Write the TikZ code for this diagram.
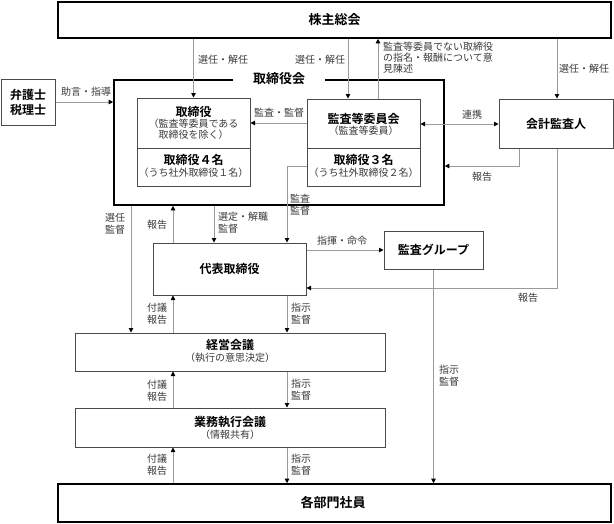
\documentclass[tikz,border=0pt]{standalone}
\usepackage{fontspec}
\setmainfont{Noto Sans CJK JP}[BoldFont={Noto Sans CJK JP Bold}]
\usetikzlibrary{arrows.meta}
\definecolor{linec}{HTML}{9A9A9A}
\definecolor{boxc}{HTML}{4A4A4A}
\definecolor{lblc}{HTML}{3A3A3A}
\tikzset{
  box/.style={draw=boxc, line width=1pt, inner sep=0pt},
  bigbox/.style={draw=black, line width=1.6pt, inner sep=0pt},
  conn/.style={draw=linec, line width=0.9pt},
  arr/.style={conn, -{Triangle[length=4.5pt,width=4.5pt,color=black]}},
  dbl/.style={conn, {Triangle[length=4.5pt,width=4.5pt,color=black]}-{Triangle[length=4.5pt,width=4.5pt,color=black]}},
  lbl/.style={font=\fontsize{10}{12}\selectfont, text=lblc, inner sep=0pt, align=center},
  sub/.style={font=\fontsize{10}{12}\selectfont, text=lblc, inner sep=0pt},
  ttl/.style={font=\fontsize{12}{14}\selectfont\bfseries, inner sep=0pt, align=center},
  bigttl/.style={font=\fontsize{13}{15}\selectfont\bfseries, inner sep=0pt},
}
\begin{document}
\begin{tikzpicture}[x=1pt,y=-1pt]
\useasboundingbox (0,0) rectangle (614,523);

% x / y levels
\coordinate (xb) at (348,0);
\coordinate (xc) at (378,0);
\coordinate (xd) at (557,0);
\coordinate (xe) at (519,0);
\coordinate (xf) at (131,0);
\coordinate (xg) at (173,0);
\coordinate (xh) at (214,0);
\coordinate (xi) at (287,0);
\coordinate (ya) at (0,123);
\coordinate (yb) at (0,124);
\coordinate (yc) at (0,166);
\coordinate (yd) at (0,288);
\coordinate (ye) at (0,148);

% big boxes
\node[bigbox, minimum width=553pt, minimum height=36pt] (kabu) at (334.5,20) {};
\node[bigttl] (kabut) at (kabu) {株主総会};
\node[bigbox, minimum width=553pt, minimum height=38pt] (kakubu) at (334.5,503) {};
\node[bigttl] (kakubut) at (333,503) {各部門社員};
\node[bigbox, minimum width=330pt, minimum height=125pt] (torikai) at (279,142.5) {};
\node[bigttl, fill=white, inner xsep=20pt, inner ysep=1pt] (torikait) at (279,79) {取締役会};

% other boxes
\node[box, minimum width=54pt, minimum height=46pt] (bengo) at (28,102) {};
\node[ttl, font=\fontsize{12}{15}\selectfont\bfseries] (bengot) at (bengo) {弁護士\\税理士};

\node[box, minimum width=113pt, minimum height=88pt] (tori) at (193.5,142) {};
\draw[draw=boxc, line width=1pt] (tori.west |- ye) -- (tori.east |- ye);
\node[ttl] (tori1) at (193.5,112) {取締役};
\node[sub] (tori2) at (193.5,124) {（監査等委員である};
\node[sub] (tori3) at (193.5,135) {取締役を除く）};
\node[ttl] (tori4) at (193.5,160) {取締役４名};
\node[sub] (tori5) at (193.5,173) {（うち社外取締役１名）};

\node[box, minimum width=113pt, minimum height=87pt] (kansa) at (363.5,142.5) {};
\draw[draw=boxc, line width=1pt] (kansa.west |- ye) -- (kansa.east |- ye);
\node[ttl] (kansa1) at (363.5,119) {監査等委員会};
\node[sub] (kansa2) at (363.5,131) {（監査等委員）};
\node[ttl] (kansa3) at (363.5,160) {取締役３名};
\node[sub] (kansa4) at (363.5,173) {（うち社外取締役２名）};

\node[box, minimum width=114pt, minimum height=49pt] (kaikei) at (556,123.5) {};
\node[ttl] (kaikeit) at (kaikei) {会計監査人};

\node[box, minimum width=153pt, minimum height=52pt] (daihyo) at (229.5,269) {};
\node[ttl] (daihyot) at (daihyo) {代表取締役};

\node[box, minimum width=99pt, minimum height=38pt] (kgroup) at (433.5,250) {};
\node[ttl] (kgroupt) at (kgroup) {監査グループ};

\node[box, minimum width=310pt, minimum height=38pt] (keiei) at (230,352) {};
\node[ttl] (keiei1) at (230,345) {経営会議};
\node[sub] (keiei2) at (230,358) {（執行の意思決定）};

\node[box, minimum width=310pt, minimum height=39pt] (gyomu) at (230,427.5) {};
\node[ttl] (gyomu1) at (230,422) {業務執行会議};
\node[sub] (gyomu2) at (230,435) {（情報共有）};

% connectors
\draw[arr] (kabu.south -| tori.north) -- (tori.north);
\draw[arr] (kabu.south -| xb) -- (kansa.north -| xb);
\draw[arr] (kansa.north -| xc) -- (kabu.south -| xc);
\draw[arr] (kabu.south -| xd) -- (kaikei.north -| xd);
\draw[arr] (bengo.east) -- (bengo.east -| torikai.west);
\draw[arr] (kansa.west |- ya) -- (tori.east |- ya);
\draw[dbl] (kansa.east |- yb) -- (kaikei.west |- yb);
\draw[arr] (kaikei.south -| xe) |- (torikai.east |- yc);
\draw[arr] (kaikei.south -| xd) |- (daihyo.east |- yd);
\draw[arr] (kansa.west |- yc) -| (daihyo.north -| xi);
\draw[arr] (torikai.south -| xf) -- (keiei.north -| xf);
\draw[arr] (daihyo.north -| xg) -- (torikai.south -| xg);
\draw[arr] (torikai.south -| xh) -- (daihyo.north -| xh);
\draw[arr] (daihyo.east |- kgroup.west) -- (kgroup.west);
\draw[arr] (kgroup.south) -- (kakubu.north -| kgroup.south);
\draw[arr] (keiei.north -| xg) -- (daihyo.south -| xg);
\draw[arr] (daihyo.south -| xi) -- (keiei.north -| xi);
\draw[arr] (gyomu.north -| xg) -- (keiei.south -| xg);
\draw[arr] (keiei.south -| xi) -- (gyomu.north -| xi);
\draw[arr] (kakubu.north -| xg) -- (gyomu.south -| xg);
\draw[arr] (gyomu.south -| xi) -- (kakubu.north -| xi);

% labels
\node[lbl] (l1) at (86,92) {助言・指導};
\node[lbl] (l2) at (223,60) {選任・解任};
\node[lbl] (l3) at (320,60) {選任・解任};
\node[lbl] (l4) at (584,69) {選任・解任};
\node[lbl, anchor=west, align=left, font=\fontsize{10}{11}\selectfont] (l5) at (383,58) {監査等委員でない取締役\\の指名・報酬について意\\見陳述};
\node[lbl] (l6) at (279,113) {監査・監督};
\node[lbl] (l7) at (472,115) {連携};
\node[lbl] (l8) at (482,177) {報告};
\node[lbl, anchor=west, align=left] (l9) at (290,204.5) {監査\\監督};
\node[lbl] (l10) at (115,224) {選任\\監督};
\node[lbl] (l11) at (157,225) {報告};
\node[lbl, anchor=west, align=left] (l12) at (218,223) {選定・解職\\監督};
\node[lbl] (l13) at (342,241) {指揮・命令};
\node[lbl] (l14) at (528,298) {報告};
\node[lbl] (l15) at (157,314) {付議\\報告};
\node[lbl, anchor=west, align=left] (l16) at (291,314) {指示\\監督};
\node[lbl] (l17) at (157,391) {付議\\報告};
\node[lbl, anchor=west, align=left] (l18) at (291,390) {指示\\監督};
\node[lbl] (l19) at (157,465) {付議\\報告};
\node[lbl, anchor=west, align=left] (l20) at (291,465) {指示\\監督};
\node[lbl, anchor=west, align=left] (l21) at (439,376) {指示\\監督};
\end{tikzpicture}
\end{document}
